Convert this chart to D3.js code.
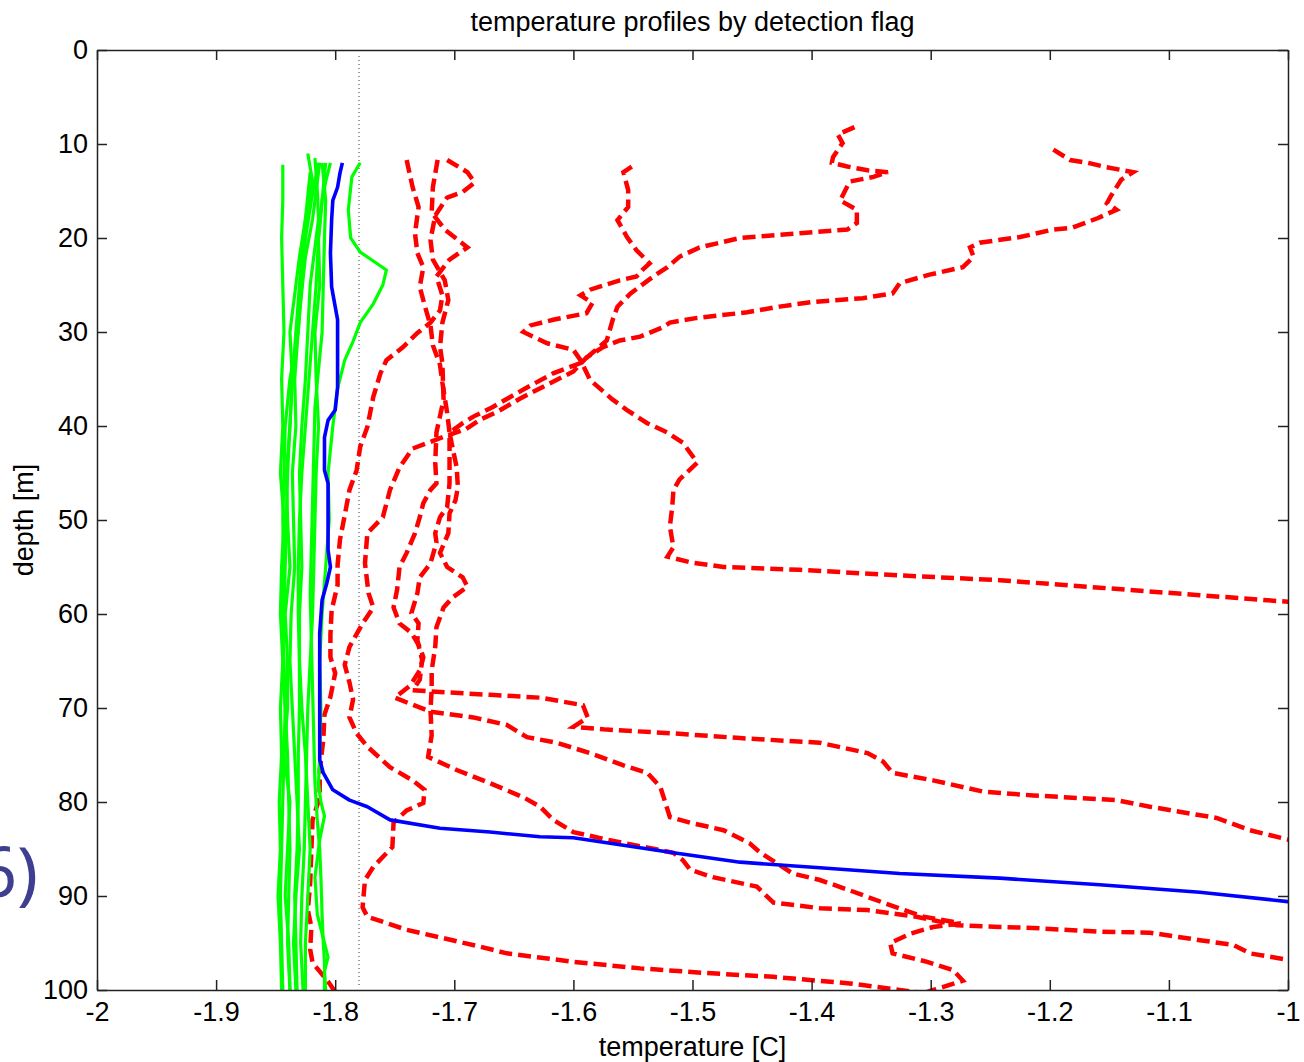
<!DOCTYPE html>
<html>
<head>
<meta charset="utf-8">
<script src="https://cdn.jsdelivr.net/npm/d3@7"></script>
<style>
  body { margin: 0; background: #fff; }
  svg { display: block; font-family: "Liberation Sans", Arial, sans-serif; }
</style>
</head>
<body>
<svg id="chart" width="1304" height="1062"></svg>
<script>
// axis setup
const xTicks = [-2, -1.9, -1.8, -1.7, -1.6, -1.5, -1.4, -1.3, -1.2, -1.1, -1];
const xTickLabels = ["-2", "-1.9", "-1.8", "-1.7", "-1.6", "-1.5", "-1.4", "-1.3", "-1.2", "-1.1", "-1"];
const yTicks = [0, 10, 20, 30, 40, 50, 60, 70, 80, 90, 100];
const freezingT = -1.78;

// profiles: [depth m, temperature C]
const blueProfile = [[12.0,-1.794],[13.1,-1.796],[14.6,-1.798],[16.0,-1.802],[18.1,-1.803],[21.6,-1.804],[25.2,-1.803],[27.3,-1.800],[28.7,-1.798],[32.2,-1.798],[35.9,-1.798],[38.3,-1.800],[39.4,-1.806],[41.2,-1.809],[44.7,-1.809],[46.1,-1.806],[53.2,-1.806],[55.0,-1.804],[56.7,-1.807],[58.5,-1.811],[62.0,-1.813],[74.5,-1.813],[75.5,-1.813],[76.9,-1.810],[78.7,-1.802],[79.8,-1.788],[80.5,-1.773],[81.9,-1.754],[82.8,-1.712],[83.2,-1.670],[83.7,-1.628],[83.8,-1.600],[84.6,-1.558],[85.4,-1.516],[86.4,-1.460],[87.0,-1.393],[87.6,-1.326],[88.1,-1.242],[88.8,-1.158],[89.6,-1.074],[90.6,-1.000],[90.8,-0.98]];

const green1 = [[12.2,-1.844],[16,-1.844],[20,-1.845],[25,-1.844],[30,-1.843],[35,-1.845],[40,-1.844],[45,-1.846],[50,-1.843],[55,-1.845],[60,-1.846],[65,-1.844],[70,-1.846],[75,-1.845],[80,-1.847],[85,-1.846],[90,-1.848],[95,-1.846],[100,-1.845]];
const green2 = [[11,-1.823],[14,-1.819],[18,-1.825],[22,-1.830],[26,-1.834],[30,-1.838],[35,-1.836],[40,-1.838],[45,-1.841],[50,-1.840],[55,-1.838],[60,-1.842],[65,-1.840],[70,-1.840],[75,-1.843],[80,-1.838],[85,-1.840],[90,-1.842],[95,-1.839],[100,-1.838]];
const green3 = [[12,-1.813],[15,-1.816],[18,-1.819],[22,-1.825],[28,-1.830],[35,-1.834],[40,-1.833],[45,-1.836],[50,-1.835],[55,-1.834],[60,-1.837],[65,-1.838],[70,-1.836],[75,-1.834],[80,-1.832],[85,-1.830],[90,-1.833],[95,-1.835],[100,-1.833]];
const green4 = [[12,-1.804],[14,-1.808],[16,-1.811],[20,-1.814],[25,-1.813],[30,-1.817],[35,-1.816],[40,-1.814],[45,-1.816],[50,-1.817],[55,-1.818],[60,-1.819],[65,-1.821],[70,-1.823],[75,-1.824],[80,-1.825],[85,-1.826],[90,-1.828],[95,-1.829],[100,-1.827]];
const green5 = [[12,-1.779],[13.5,-1.786],[17,-1.789],[20,-1.787],[21.5,-1.779],[23.4,-1.757],[25,-1.760],[27,-1.768],[29,-1.779],[31,-1.785],[33,-1.792],[36,-1.798],[40,-1.802],[45,-1.806],[50,-1.805],[55,-1.808],[60,-1.811],[65,-1.813],[70,-1.812],[75,-1.813],[78,-1.814],[80,-1.812],[81.5,-1.809],[84,-1.813],[88,-1.817],[92,-1.815],[95,-1.809],[96.5,-1.806],[98,-1.809],[100,-1.808]];
const green6 = [[12,-1.814],[16,-1.820],[20,-1.825],[25,-1.828],[30,-1.831],[35,-1.838],[40,-1.842],[45,-1.843],[50,-1.844],[55,-1.843],[60,-1.845],[65,-1.843],[70,-1.842],[75,-1.843],[80,-1.844],[85,-1.845],[90,-1.846],[95,-1.845],[100,-1.844]];
const green7 = [[11.5,-1.817],[15,-1.815],[18,-1.814],[22,-1.818],[25,-1.821],[30,-1.823],[35,-1.825],[40,-1.828],[45,-1.830],[50,-1.829],[55,-1.828],[60,-1.830],[65,-1.830],[70,-1.828],[75,-1.825],[80,-1.823],[85,-1.821],[90,-1.823],[95,-1.825],[100,-1.825]];
const green8 = [[12,-1.811],[16,-1.808],[20,-1.809],[25,-1.810],[30,-1.811],[34,-1.814],[38,-1.817],[43,-1.818],[48,-1.819],[53,-1.820],[58,-1.821],[63,-1.820],[68,-1.819],[73,-1.818],[78,-1.817],[82,-1.815],[85,-1.813],[88,-1.812],[92,-1.811],[95,-1.810],[97,-1.809],[100,-1.809]];
const green9 = [[13,-1.821],[18,-1.825],[25,-1.830],[30,-1.833],[35,-1.836],[40,-1.838],[45,-1.840],[50,-1.841],[55,-1.842],[60,-1.843],[65,-1.844],[70,-1.842],[75,-1.840],[80,-1.839],[85,-1.838],[90,-1.839],[95,-1.840],[100,-1.838]];
const green10 = [[12,-1.808],[16,-1.811],[20,-1.814],[25,-1.816],[30,-1.819],[35,-1.822],[40,-1.825],[45,-1.828],[50,-1.830],[55,-1.831],[60,-1.831],[65,-1.830],[70,-1.830],[75,-1.831],[80,-1.831],[85,-1.832],[90,-1.834],[95,-1.833],[100,-1.832]];

const red1 = [[11.7,-1.740],[14.6,-1.735],[16.7,-1.730],[19.5,-1.733],[21.6,-1.731],[23.1,-1.726],[25.2,-1.729],[27.1,-1.725],[29.3,-1.720],[31.4,-1.718],[33.5,-1.712],[35.4,-1.710],[38.6,-1.706],[40.7,-1.704],[43.6,-1.704],[46.1,-1.704],[48.6,-1.706],[49.7,-1.712],[51.4,-1.716],[52.4,-1.715],[54.6,-1.720],[56.1,-1.729],[57.8,-1.731],[59.9,-1.736],[61.0,-1.730],[62.8,-1.731],[64.9,-1.727],[67.0,-1.729],[68.1,-1.735],[68.3,-1.712],[68.6,-1.670],[68.9,-1.628],[69.7,-1.592],[71.0,-1.588],[72.0,-1.600],[72.3,-1.572],[72.7,-1.516],[73.2,-1.460],[73.7,-1.393],[74.8,-1.353],[75.7,-1.340],[76.9,-1.332],[77.7,-1.298],[78.9,-1.256],[79.3,-1.214],[79.8,-1.144],[80.5,-1.116],[81.7,-1.060],[83.0,-1.032],[84.0,-1.000],[84.5,-0.98]];
const red2 = [[11.7,-1.714],[14.6,-1.718],[17.3,-1.719],[19.1,-1.708],[21.0,-1.689],[22.3,-1.704],[24.1,-1.715],[26.1,-1.710],[27.7,-1.712],[29.0,-1.720],[30.1,-1.731],[31.6,-1.743],[33.0,-1.757],[34.4,-1.762],[36.9,-1.768],[40.1,-1.773],[42.2,-1.779],[44.7,-1.782],[46.8,-1.788],[49.5,-1.792],[52.1,-1.796],[54.8,-1.798],[56.9,-1.798],[59.6,-1.803],[62.2,-1.804],[64.6,-1.804],[66.3,-1.800],[68.8,-1.804],[70.7,-1.809],[73.4,-1.810],[76.6,-1.813],[79.5,-1.813],[81.9,-1.819],[85.1,-1.820],[88.6,-1.821],[91.5,-1.823],[93.3,-1.820],[95.7,-1.821],[97.1,-1.819],[99.1,-1.806],[100.2,-1.800]];
const red3 = [[12.4,-1.551],[13.0,-1.558],[14.9,-1.554],[16.7,-1.554],[18.1,-1.563],[19.9,-1.555],[21.3,-1.547],[22.7,-1.536],[23.4,-1.542],[24.1,-1.547],[24.5,-1.561],[25.5,-1.586],[26.1,-1.594],[26.9,-1.584],[28.0,-1.589],[28.7,-1.617],[29.3,-1.636],[30.0,-1.642],[31.2,-1.622],[31.9,-1.600],[33.0,-1.594],[35.1,-1.586],[37.2,-1.567],[38.3,-1.555],[39.7,-1.538],[40.7,-1.521],[41.8,-1.508],[43.9,-1.496],[45.7,-1.511],[46.8,-1.516],[48.6,-1.517],[50.7,-1.519],[52.9,-1.516],[53.9,-1.521],[54.5,-1.502],[55.0,-1.474],[55.3,-1.410],[55.9,-1.326],[56.4,-1.242],[57.2,-1.158],[58.0,-1.074],[58.7,-1.000],[59.0,-0.98]];
const red4 = [[8.2,-1.364],[9.0,-1.378],[9.9,-1.374],[11.4,-1.382],[12.0,-1.383],[12.4,-1.370],[12.8,-1.353],[13.0,-1.336],[13.5,-1.348],[14.0,-1.368],[16.0,-1.376],[17.0,-1.362],[18.4,-1.362],[19.1,-1.370],[19.5,-1.410],[20.0,-1.460],[21.0,-1.494],[22.0,-1.511],[23.1,-1.521],[24.1,-1.533],[25.9,-1.552],[27.3,-1.563],[28.7,-1.567],[30.9,-1.572],[32.2,-1.584],[33.3,-1.594],[34.4,-1.617],[35.9,-1.639],[38.0,-1.668],[39.0,-1.684],[39.7,-1.693],[40.7,-1.704],[42.6,-1.701],[44.4,-1.698],[46.5,-1.697],[47.9,-1.699],[49.3,-1.704],[51.4,-1.705],[53.5,-1.712],[55.0,-1.706],[56.1,-1.693],[57.1,-1.689],[58.2,-1.701],[59.3,-1.709],[61.4,-1.715],[63.5,-1.716],[66.0,-1.719],[68.1,-1.719],[70.2,-1.720],[72.9,-1.719],[75.2,-1.722],[76.6,-1.698],[78.0,-1.670],[79.5,-1.642],[80.5,-1.628],[81.9,-1.617],[83.2,-1.600],[84.0,-1.572],[85.4,-1.516],[86.2,-1.508],[87.2,-1.502],[88.0,-1.483],[89.0,-1.446],[90.7,-1.432],[91.3,-1.393],[91.5,-1.353],[92.2,-1.312],[93.1,-1.278],[93.3,-1.242],[93.4,-1.214],[93.8,-1.158],[93.9,-1.116],[94.7,-1.074],[95.2,-1.046],[96.1,-1.032],[96.8,-1.000],[97.2,-0.98]];
const red5 = [[10.6,-1.197],[11.7,-1.183],[12.0,-1.168],[12.4,-1.155],[13.0,-1.130],[13.8,-1.140],[15.6,-1.149],[16.3,-1.152],[17.0,-1.144],[17.9,-1.160],[18.9,-1.181],[19.1,-1.197],[19.9,-1.225],[20.5,-1.259],[21.0,-1.267],[22.0,-1.264],[23.1,-1.273],[23.9,-1.301],[24.8,-1.326],[25.9,-1.332],[26.4,-1.357],[26.8,-1.399],[27.3,-1.427],[27.9,-1.454],[28.5,-1.496],[29.0,-1.519],[29.5,-1.525],[30.5,-1.544],[30.9,-1.561],[31.6,-1.575],[32.7,-1.589],[34.2,-1.600],[35.6,-1.622],[37.1,-1.645],[38.5,-1.664],[39.3,-1.678],[40.3,-1.690],[41.3,-1.712],[42.4,-1.735],[44.4,-1.746],[46.8,-1.754],[49.7,-1.760],[51.4,-1.773],[54.6,-1.775],[57.8,-1.772],[59.3,-1.768],[61.0,-1.777],[63.5,-1.788],[65.4,-1.792],[67.3,-1.788],[69.1,-1.785],[71.0,-1.788],[72.7,-1.782],[74.1,-1.773],[76.3,-1.754],[77.7,-1.735],[78.7,-1.725],[80.1,-1.726],[80.9,-1.740],[82.2,-1.751],[84.8,-1.752],[86.9,-1.768],[88.3,-1.775],[91.2,-1.777],[92.2,-1.773],[93.6,-1.740],[94.4,-1.712],[95.4,-1.678],[96.1,-1.656],[97.0,-1.600],[97.7,-1.544],[98.2,-1.488],[98.6,-1.432],[99.3,-1.368],[100.0,-1.326],[100.4,-1.300]];
const red6 = [[11.7,-1.706],[13.0,-1.689],[14.1,-1.683],[15.1,-1.693],[15.7,-1.706],[17.6,-1.716],[20.2,-1.720],[22.3,-1.718],[24.5,-1.708],[26.6,-1.705],[29.0,-1.710],[31.6,-1.712],[33.3,-1.710],[37.2,-1.709],[40.7,-1.715],[43.9,-1.716],[46.1,-1.715],[46.8,-1.720],[48.2,-1.726],[49.7,-1.729],[51.4,-1.733],[53.5,-1.740],[55.0,-1.746],[57.4,-1.748],[59.3,-1.751],[61.0,-1.746],[62.0,-1.736],[63.5,-1.729],[64.6,-1.726],[66.0,-1.729],[67.6,-1.737],[68.9,-1.750],[70.4,-1.720],[71.0,-1.684],[71.8,-1.656],[73.1,-1.639],[73.7,-1.614],[74.8,-1.586],[76.1,-1.558],[76.9,-1.538],[78.4,-1.527],[81.6,-1.519],[82.2,-1.502],[83.0,-1.474],[84.4,-1.452],[85.4,-1.443],[87.6,-1.416],[88.3,-1.393],[89.4,-1.368],[90.7,-1.340],[92.2,-1.306],[92.9,-1.275],[93.3,-1.298],[94.0,-1.317],[95.0,-1.334],[96.1,-1.332],[97.0,-1.303],[97.9,-1.281],[99.0,-1.273],[99.7,-1.290],[100.0,-1.298],[100.5,-1.310]];

const greenProfiles = [green1, green2, green3, green4, green5, green6, green7, green8, green9, green10];
const redProfiles = [red1, red2, red3, red4, red5, red6];

const svg = d3.select("#chart"),
      margin = {left: 97, right: 1288, top: 50, bottom: 990};

const x = d3.scaleLinear().domain([-2, -1]).range([margin.left, margin.right]);
const y = d3.scaleLinear().domain([0, 100]).range([margin.top, margin.bottom]);

svg.append("defs").append("clipPath")
    .attr("id", "plotClip")
  .append("rect")
    .attr("x", margin.left)
    .attr("y", margin.top)
    .attr("width", margin.right - margin.left)
    .attr("height", margin.bottom - margin.top);

const line = d3.line()
    .x(d => x(d[1]))
    .y(d => y(d[0]));

const plot = svg.append("g").attr("clip-path", "url(#plotClip)");

// freezing point reference
plot.append("line")
    .attr("x1", x(freezingT)).attr("x2", x(freezingT))
    .attr("y1", y(0) + 6).attr("y2", y(100) - 4)
    .style("stroke", "#333")
    .style("stroke-width", 1)
    .style("stroke-dasharray", "1,3");

plot.selectAll("path.red")
    .data(redProfiles)
    .enter()
    .append("path")
      .attr("class", "red")
      .attr("d", line)
      .style("fill", "none")
      .style("stroke", "#ff0000")
      .style("stroke-width", 4.5)
      .style("stroke-dasharray", "13,6");

plot.selectAll("path.green")
    .data(greenProfiles)
    .enter()
    .append("path")
      .attr("class", "green")
      .attr("d", line)
      .style("fill", "none")
      .style("stroke", "#00ff00")
      .style("stroke-width", 3.2)
      .style("stroke-linejoin", "round");

plot.append("path")
    .datum(blueProfile)
    .attr("d", line)
    .style("fill", "none")
    .style("stroke", "#0000ff")
    .style("stroke-width", 3.6)
    .style("stroke-linejoin", "round");

// axes, matlab style: ticks inside, box all round
const fmt = (d, i) => xTickLabels[i];

svg.append("g")
    .attr("transform", `translate(0,${margin.bottom})`)
    .call(d3.axisBottom(x).tickValues(xTicks).tickFormat(fmt).tickSize(-10).tickSizeOuter(0).tickPadding(12));

svg.append("g")
    .attr("transform", `translate(0,${margin.top})`)
    .call(d3.axisTop(x).tickValues(xTicks).tickFormat("").tickSize(-10).tickSizeOuter(0));

svg.append("g")
    .attr("transform", `translate(${margin.left},0)`)
    .call(d3.axisLeft(y).tickValues(yTicks).tickFormat(d3.format("d")).tickSize(-10).tickSizeOuter(0).tickPadding(9));

svg.append("g")
    .attr("transform", `translate(${margin.right},0)`)
    .call(d3.axisRight(y).tickValues(yTicks).tickFormat("").tickSize(-10).tickSizeOuter(0));

svg.selectAll(".domain, .tick line")
    .style("stroke", "#222")
    .style("stroke-width", 1.5);

svg.selectAll(".tick text")
    .style("font-family", "'Liberation Sans', Arial, sans-serif")
    .style("font-size", "27px")
    .style("fill", "#000");

svg.append("text")
    .attr("x", (margin.left + margin.right) / 2)
    .attr("y", 31)
    .attr("text-anchor", "middle")
    .style("font-size", "27px")
    .text("temperature profiles by detection flag");

svg.append("text")
    .attr("x", (margin.left + margin.right) / 2)
    .attr("y", 1056)
    .attr("text-anchor", "middle")
    .style("font-size", "27px")
    .text("temperature [C]");

svg.append("text")
    .attr("transform", `translate(33,${(margin.top + margin.bottom) / 2})rotate(-90)`)
    .attr("text-anchor", "middle")
    .style("font-size", "27px")
    .text("depth [m]");

// panel label cut at the left edge
svg.append("text")
    .attr("x", 38)
    .attr("y", 897)
    .attr("text-anchor", "end")
    .style("font-family", "'Noto Sans', 'Open Sans', sans-serif")
    .style("font-size", "70px")
    .style("fill", "#3f3f91")
    .text("6)");
</script>
</body>
</html>
